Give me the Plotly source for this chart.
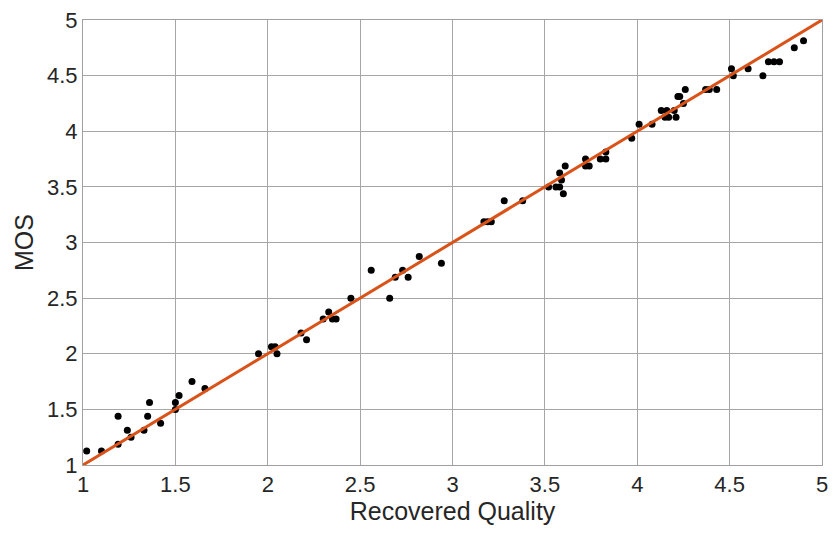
import plotly.graph_objects as go

# Recovered quality scores vs. subjective MOS
recovered_quality = [
    1.02, 1.10, 1.19, 1.19, 1.24, 1.26, 1.33, 1.35, 1.36, 1.42,
    1.50, 1.50, 1.52, 1.59, 1.66, 1.95, 2.02, 2.04, 2.05, 2.18,
    2.21, 2.30, 2.33, 2.35, 2.37, 2.45, 2.56, 2.66, 2.69, 2.73,
    2.76, 2.82, 2.94, 3.17, 3.19, 3.21, 3.28, 3.38, 3.52, 3.56,
    3.58, 3.58, 3.59, 3.60, 3.61, 3.72, 3.72, 3.74, 3.80, 3.83,
    3.83, 3.97, 4.01, 4.08, 4.13, 4.16, 4.15, 4.17, 4.20, 4.21,
    4.22, 4.23, 4.25, 4.26, 4.37, 4.39, 4.43, 4.51, 4.52, 4.60,
    4.68, 4.71, 4.74, 4.77, 4.85, 4.90,
]
mos = [
    1.125, 1.125, 1.1875, 1.4375, 1.3125, 1.25, 1.3125, 1.4375, 1.5625, 1.375,
    1.5, 1.5625, 1.625, 1.75, 1.6875, 2.0, 2.0625, 2.0625, 2.0, 2.1875,
    2.125, 2.3125, 2.375, 2.3125, 2.3125, 2.5, 2.75, 2.5, 2.6875, 2.75,
    2.6875, 2.875, 2.8125, 3.1875, 3.1875, 3.1875, 3.375, 3.375, 3.5, 3.5,
    3.5, 3.625, 3.5625, 3.4375, 3.6875, 3.75, 3.6875, 3.6875, 3.75, 3.75,
    3.8125, 3.9375, 4.0625, 4.0625, 4.1875, 4.1875, 4.125, 4.125, 4.1875, 4.125,
    4.3125, 4.3125, 4.25, 4.375, 4.375, 4.375, 4.375, 4.5625, 4.5, 4.5625,
    4.5, 4.625, 4.625, 4.625, 4.75, 4.8125,
]

# Identity reference line
fit_x = [1, 5]
fit_y = [1, 5]

tick_vals = [1, 1.5, 2, 2.5, 3, 3.5, 4, 4.5, 5]
tick_text = ["1", "1.5", "2", "2.5", "3", "3.5", "4", "4.5", "5"]

FONT = "Liberation Sans, Arial, sans-serif"

fig = go.Figure()
fig.add_trace(go.Scatter(
    x=recovered_quality, y=mos, mode="markers",
    marker=dict(color="black", size=7, line=dict(width=0)),
    showlegend=False,
))
fig.add_trace(go.Scatter(
    x=fit_x, y=fit_y, mode="lines",
    line=dict(color="#D95319", width=3),
    showlegend=False,
))

axis_common = dict(
    range=[1, 5], tickvals=tick_vals, ticktext=tick_text,
    showgrid=True, gridcolor="#a6a6a6", gridwidth=1,
    showline=True, linecolor="#a0a0a0", linewidth=1, mirror=True,
    ticks="", zeroline=False, automargin=False,
    tickfont=dict(family=FONT, size=22, color="#262626"),
)

fig.update_xaxes(
    **axis_common,
    title=dict(text="Recovered Quality", standoff=4,
               font=dict(family=FONT, size=25, color="#262626")),
)
fig.update_yaxes(
    **axis_common,
    title=dict(text="MOS", standoff=6,
               font=dict(family=FONT, size=25, color="#262626")),
)

fig.update_layout(
    width=833, height=534,
    margin=dict(l=83, r=11, t=20, b=69),
    paper_bgcolor="white", plot_bgcolor="white",
)

fig.write_html("out.html")
